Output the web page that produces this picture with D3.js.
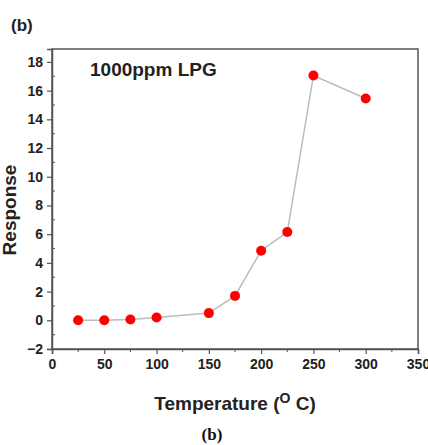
<html lang="en">
<head>
  <meta charset="utf-8"/>
  <script src="https://d3js.org/d3.v7.min.js"></script>
  <style>
  * { font-family: "Liberation Sans", Arial, sans-serif; }
  body { margin: 0; background: #fff; }
  .tick text { font-weight: bold; font-size: 14px; fill: #222; }
  </style>
</head>
<body>
  <svg id="chart" width="428" height="445"></svg>
  <script>
    const temps = [25, 50, 75, 100, 150, 175, 200, 225, 250, 300];
    const responses = [0.0, 0.0, 0.05, 0.2, 0.5, 1.7, 4.85, 6.15, 17.05, 15.45];
    const xTicks = [0, 50, 100, 150, 200, 250, 300, 350];
    const yTicks = [-2, 0, 2, 4, 6, 8, 10, 12, 14, 16, 18];

    const svg = d3.select("#chart");
    const margin = { top: 49, right: 10, bottom: 96, left: 52 };
    const w = 428 - margin.left - margin.right;
    const h = 445 - margin.top - margin.bottom;
    const g = svg.append("g").attr("transform", "translate(" + margin.left + "," + margin.top + ")");

    const x = d3.scaleLinear().domain([0, 350]).range([0, w]);
    const y = d3.scaleLinear().domain([-2, 18.9]).range([h, 0]);

    const axisColor = "#555";

    // frame
    g.append("rect").attr("width", w).attr("height", h)
      .attr("fill", "none").attr("stroke", axisColor).attr("stroke-width", 1.5);

    // minor ticks
    const xMinor = d3.range(25, 350, 50);
    const yMinor = d3.range(-1, 18.5, 2);
    g.selectAll("line.xmin").data(xMinor).join("line")
      .attr("x1", d => x(d)).attr("x2", d => x(d))
      .attr("y1", h).attr("y2", h + 3)
      .attr("stroke", axisColor);
    g.selectAll("line.ymin").data(yMinor).join("line")
      .attr("y1", d => y(d)).attr("y2", d => y(d))
      .attr("x1", 0).attr("x2", 3)
      .attr("stroke", axisColor);

    const xAxis = g.append("g").attr("transform", "translate(0," + h + ")")
      .call(d3.axisBottom(x).tickValues(xTicks).tickSize(5).tickPadding(5));
    const yAxis = g.append("g")
      .call(d3.axisLeft(y).tickValues(yTicks).tickSize(5).tickPadding(4));
    [xAxis, yAxis].forEach(a => {
      a.select(".domain").attr("stroke", axisColor).attr("stroke-width", 1.5);
      a.selectAll(".tick line").attr("stroke", axisColor).attr("stroke-width", 1.2);
    });

    // line + points
    const pts = temps.map((t, i) => ({ t: t, r: responses[i] }));
    g.append("path").datum(pts)
      .attr("fill", "none").attr("stroke", "#bbb").attr("stroke-width", 1.5)
      .attr("d", d3.line().x(d => x(d.t)).y(d => y(d.r)));
    g.selectAll("circle.pt").data(pts).join("circle")
      .attr("class", "pt")
      .attr("cx", d => x(d.t)).attr("cy", d => y(d.r))
      .attr("r", 5).attr("fill", "#f00");

    // texts
    g.append("text").attr("x", 38).attr("y", 27)
      .attr("font-weight", "bold").attr("font-size", 19).attr("fill", "#222")
      .text("1000ppm LPG");

    svg.append("text").attr("transform", "translate(16,210) rotate(-90)")
      .attr("text-anchor", "middle").attr("font-weight", "bold").attr("font-size", 19).attr("fill", "#222")
      .text("Response");

    const xl = svg.append("text").attr("x", 235).attr("y", 410)
      .attr("text-anchor", "middle").attr("font-weight", "bold").attr("font-size", 19).attr("fill", "#222");
    xl.append("tspan").text("Temperature (");
    xl.append("tspan").attr("font-size", 14).attr("dy", -7).text("O");
    xl.append("tspan").attr("dy", 7).text(" C)");

    svg.append("text").attr("x", 11).attr("y", 31)
      .attr("font-weight", "bold").attr("font-size", 17).attr("fill", "#222")
      .text("(b)");

    svg.append("text").attr("x", 212).attr("y", 440)
      .attr("text-anchor", "middle").attr("font-weight", "bold").attr("font-size", 17).attr("fill", "#111")
      .style("font-family", "'Liberation Serif', 'Times New Roman', serif")
      .text("(b)");
  </script>
</body>
</html>
